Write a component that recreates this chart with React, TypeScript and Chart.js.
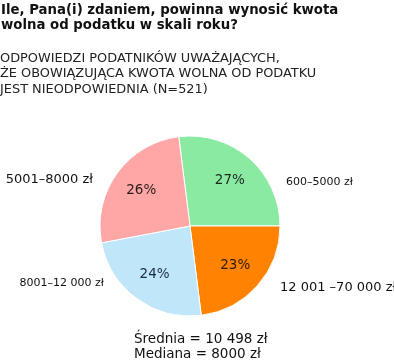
import React, { useEffect, useRef } from "react";
import { Chart, registerables } from "chart.js";

Chart.register(...registerables);

const titleLines = [
  "Ile, Pana(i) zdaniem, powinna wynosić kwota",
  "wolna od podatku w skali roku?",
];
const subtitleLines = [
  "ODPOWIEDZI PODATNIKÓW UWAŻAJĄCYCH,",
  "ŻE OBOWIĄZUJĄCA KWOTA WOLNA OD PODATKU",
  "JEST NIEODPOWIEDNIA (N=521)",
];
const categories = ["600–5000 zł", "12 001 –70 000 zł", "8001–12 000 zł", "5001–8000 zł"];
const shares = [27, 23, 24, 26];
const footerLines = ["Średnia = 10 498 zł", "Mediana = 8000 zł"];

const colors = ["#8AEAA2", "#FF8200", "#C0E6FA", "#FFA6A6"];
const pctColors = ["#1c2a1e", "#2a1a0a", "#1b2b45", "#2a1c1c"];
// outside label anchors relative to pie centre, in units of radius
const labelLayout = [
  { dx: 1.067, dy: -0.49, align: "left", size: 11 },
  { dx: 1.0, dy: 0.686, align: "left", size: 13 },
  { dx: -0.956, dy: 0.63, align: "right", size: 11 },
  { dx: -1.078, dy: -0.517, align: "right", size: 13 },
];

const FONT = "'DejaVu Sans', Verdana, sans-serif";

const textPlugin = {
  id: "texts",
  afterDraw(chart: any) {
    const ctx = chart.ctx;
    ctx.save();
    ctx.fillStyle = "#111";
    ctx.textAlign = "left";
    ctx.textBaseline = "alphabetic";
    ctx.font = `bold 13.3px ${FONT}`;
    titleLines.forEach((t, i) => ctx.fillText(t, 1, 14 + i * 14.5));
    ctx.fillStyle = "#222";
    ctx.font = `12.9px ${FONT}`;
    subtitleLines.forEach((t, i) => ctx.fillText(t, 0, 62 + i * 15.3));

    const meta = chart.getDatasetMeta(0);
    meta.data.forEach((arc: any, i: number) => {
      const p = arc.getProps(["x", "y", "startAngle", "endAngle", "outerRadius"], true);
      const mid = (p.startAngle + p.endAngle) / 2;
      const r = p.outerRadius;
      ctx.font = `13.5px ${FONT}`;
      ctx.textAlign = "center";
      ctx.textBaseline = "middle";
      ctx.fillStyle = pctColors[i];
      ctx.fillText(shares[i] + "%", p.x + Math.cos(mid) * r * 0.67, p.y + Math.sin(mid) * r * 0.67);
      const l = labelLayout[i];
      ctx.font = `${l.size}px ${FONT}`;
      ctx.textAlign = l.align;
      ctx.fillStyle = "#111";
      ctx.fillText(categories[i], p.x + l.dx * r, p.y + l.dy * r);
    });

    const c = meta.data[0];
    ctx.textAlign = "left";
    ctx.textBaseline = "alphabetic";
    ctx.font = `13.5px ${FONT}`;
    ctx.fillStyle = "#111";
    footerLines.forEach((t, i) => ctx.fillText(t, c.x - 56, 343 + i * 15));
    ctx.restore();
  },
};

export default function App() {
  const ref = useRef<HTMLCanvasElement>(null);
  useEffect(() => {
    document.body.style.margin = "0";
    const chart = new Chart(ref.current!, {
      type: "pie",
      data: {
        labels: categories,
        datasets: [
          {
            data: shares,
            backgroundColor: colors,
            borderColor: "#ffffff",
            borderWidth: 1,
          },
        ],
      },
      options: {
        animation: false,
        responsive: false,
        devicePixelRatio: 1,
        rotation: -7.2,
        radius: 90,
        layout: { padding: { left: 100, right: 114, top: 136, bottom: 44 } },
        plugins: {
          legend: { display: false },
          title: { display: false },
          tooltip: { enabled: false },
        },
      } as any,
      plugins: [textPlugin],
    });
    return () => chart.destroy();
  }, []);
  return (
    <div style={{ width: 394, height: 360, background: "#fff" }}>
      <canvas ref={ref} width={394} height={360} />
    </div>
  );
}
